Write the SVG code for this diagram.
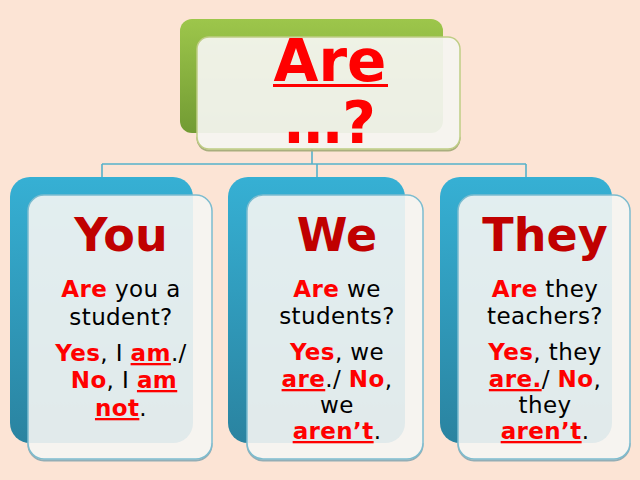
<svg xmlns="http://www.w3.org/2000/svg" width="640" height="480" viewBox="0 0 640 480">
<defs>
<linearGradient id="gGreen" x1="0" y1="0" x2="0" y2="1">
<stop offset="0" stop-color="#9dc64b"/>
<stop offset="1" stop-color="#729b33"/>
</linearGradient>
<linearGradient id="gBlue" x1="0" y1="0" x2="0" y2="1">
<stop offset="0" stop-color="#36b0d4"/>
<stop offset="1" stop-color="#2a83a0"/>
</linearGradient>
<style>
.bg{fill:#fce4d5}
.gback{fill:url(#gGreen)}
.bback{fill:url(#gBlue)}
.tfront{fill:#f5f5f1;fill-opacity:0.93;stroke:#bfcd85;stroke-width:1.5}
.cfront{fill:#f5f5f3;fill-opacity:0.9;stroke:#7cbccf;stroke-width:1.5}
.tshadow{fill:none;stroke:#a9ae7e;stroke-width:2}
.cshadow{fill:none;stroke:#93aeb6;stroke-width:2}
.conn{fill:none;stroke:#55b1ca;stroke-width:1.6}
.uline{stroke:#ff0000;stroke-width:3}
.title{font-family:"DejaVu Sans","Liberation Sans",sans-serif;font-weight:bold;font-size:58px;fill:#ff0000;text-anchor:middle}
.head{font-family:"DejaVu Sans","Liberation Sans",sans-serif;font-weight:bold;font-size:46px;fill:#c00000;text-anchor:middle}
.body{font-family:"DejaVu Sans","Liberation Sans",sans-serif;font-size:23px;fill:#000000;text-anchor:middle;letter-spacing:0.4px}
.r{font-weight:bold;fill:#ff0000}
.u{text-decoration:underline}
</style>
</defs>
<rect class="bg" x="0" y="0" width="640" height="480"/>

<g id="connectors">
<path class="conn" d="M312 149 V164 M102 164 H526 M102 164 V178 M317 164 V178 M526 164 V178"/>
</g>

<g id="node-top">
<rect class="gback" x="180" y="19" width="263" height="114" rx="12"/>
<path class="tshadow" d="M197.5 137 A12 12 0 0 0 209 150.5 H448 A12 12 0 0 0 459.5 137"/>
<rect class="tfront" x="197" y="37" width="263" height="112" rx="12"/>
<text class="title" x="330" y="81">Are</text>
<line class="uline" x1="273" y1="85.5" x2="388" y2="85.5"/>
<text class="title" x="330" y="143">…?</text>
</g>

<g id="node-you">
<rect class="bback" x="10" y="177" width="183" height="266" rx="20"/>
<path class="cshadow" d="M28.5 443 A16 16 0 0 0 44 460.5 H196 A16 16 0 0 0 211.5 443"/>
<rect class="cfront" x="28" y="195" width="184" height="264" rx="16"/>
<text class="head" x="121" y="251">You</text>
<text class="body" x="121" y="297"><tspan class="r">Are</tspan> you a</text>
<text class="body" x="121" y="325">student?</text>
<text class="body" x="121" y="361"><tspan class="r">Yes</tspan>, I <tspan class="r u">am</tspan>./</text>
<text class="body" x="124" y="388"><tspan class="r">No</tspan>, I <tspan class="r u">am</tspan></text>
<text class="body" x="121" y="416"><tspan class="r u">not</tspan>.</text>
</g>

<g id="node-we">
<rect class="bback" x="228" y="177" width="177" height="266" rx="20"/>
<path class="cshadow" d="M247.5 443 A16 16 0 0 0 263 460.5 H407 A16 16 0 0 0 422.5 443"/>
<rect class="cfront" x="247" y="195" width="176" height="264" rx="16"/>
<text class="head" x="337" y="251">We</text>
<text class="body" x="337" y="297"><tspan class="r">Are</tspan> we</text>
<text class="body" x="337" y="324">students?</text>
<text class="body" x="337" y="360"><tspan class="r">Yes</tspan>, we</text>
<text class="body" x="337" y="387"><tspan class="r u">are</tspan>./ <tspan class="r">No</tspan>,</text>
<text class="body" x="337" y="413">we</text>
<text class="body" x="337" y="439"><tspan class="r u">aren’t</tspan>.</text>
</g>

<g id="node-they">
<rect class="bback" x="440" y="177" width="172" height="266" rx="20"/>
<path class="cshadow" d="M458.5 443 A16 16 0 0 0 474 460.5 H614 A16 16 0 0 0 629.5 443"/>
<rect class="cfront" x="458" y="195" width="172" height="264" rx="16"/>
<text class="head" x="545" y="251">They</text>
<text class="body" x="545" y="297"><tspan class="r">Are</tspan> they</text>
<text class="body" x="545" y="324">teachers?</text>
<text class="body" x="545" y="360"><tspan class="r">Yes</tspan>, they</text>
<text class="body" x="545" y="387"><tspan class="r u">are.</tspan>/ <tspan class="r">No</tspan>,</text>
<text class="body" x="545" y="413">they</text>
<text class="body" x="545" y="439"><tspan class="r u">aren’t</tspan>.</text>
</g>
</svg>
